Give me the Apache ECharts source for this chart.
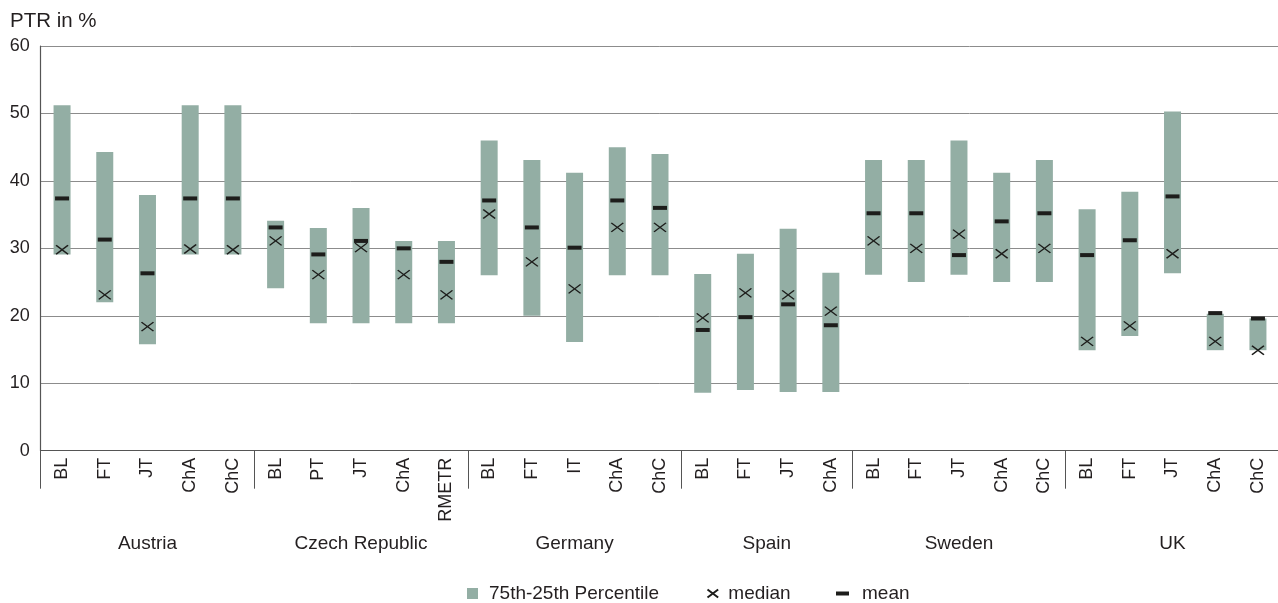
<!DOCTYPE html>
<html>
<head>
<meta charset="utf-8">
<script src="https://cdn.jsdelivr.net/npm/echarts@6/dist/echarts.min.js"></script>
<style>
html,body{margin:0;padding:0;background:#fff;overflow:hidden;}
#chart{width:1278px;height:603px;}
</style>
</head>
<body>
<div id="chart"></div>
<script>
const categories = ['BL','FT','JT','ChA','ChC','BL','PT','JT','ChA','RMETR','BL','FT','IT','ChA','ChC','BL','FT','JT','ChA','BL','FT','JT','ChA','ChC','BL','FT','JT','ChA','ChC'];
const countries = ['Austria','Czech Republic','Germany','Spain','Sweden','UK'];
const groupSizes = [5,5,5,4,5,5];
const p75 = [51.2,44.3,37.9,51.2,51.2, 34.1,33.0,36.0,31.1,31.1, 46.0,43.1,41.2,45.0,44.0, 26.2,29.2,32.9,26.4, 43.1,43.1,46.0,41.2,43.1, 35.8,38.4,50.3,20.3,19.6];
const p25 = [29.1,22.0,15.8,29.1,29.1, 24.1,18.9,18.9,18.9,18.9, 26.0,20.0,16.1,26.0,26.0, 8.6,9.0,8.7,8.7, 26.1,25.0,26.1,25.0,25.0, 14.9,17.0,26.3,14.9,14.9];
const median = [29.8,23.1,18.4,29.9,29.8, 31.1,26.1,30.1,26.1,23.1, 35.1,28.0,24.0,33.1,33.1, 19.7,23.4,23.1,20.7, 31.1,30.0,32.1,29.2,30.0, 16.2,18.5,29.2,16.2,14.9];
const mean = [37.4,31.3,26.3,37.4,37.4, 33.1,29.1,31.1,30.0,28.0, 37.1,33.1,30.1,37.1,36.0, 17.9,19.8,21.7,18.6, 35.2,35.2,29.0,34.0,35.2, 29.0,31.2,37.7,20.4,19.6];
const yTicks = [0,10,20,30,40,50,60];

// group starts and centers (in category units)
const groupStarts = [];
const groupCenters = {};
let acc = 0;
groupSizes.forEach((s, i) => { groupStarts.push(acc); groupCenters[(acc + s / 2).toFixed(1)] = countries[i]; acc += s; });

const FONT = 'Liberation Sans, Arial, Helvetica, sans-serif';
const TXT = '#231f20';
const BAR = '#93aea4';
const MARK = '#1d1d1b';
const crossPath = 'path://M0,0L12,9M12,0L0,9';

const chart = echarts.init(document.getElementById('chart'), null, {renderer: 'canvas'});
chart.setOption({
  animation: false,
  textStyle: {fontFamily: FONT},
  title: {text: 'PTR in %', left: 5, top: 6, textStyle: {fontFamily: FONT, fontSize: 20.5, fontWeight: 'normal', color: TXT}},
  grid: {left: 40.7, width: 1238.6, top: 46, bottom: 152.3, containLabel: false, outerBoundsMode: 'none'},
  legend: [
    {data: ['75th-25th Percentile'], left: 467, top: 584, padding: 0, icon: 'rect', itemWidth: 11, itemHeight: 11,
     textStyle: {fontFamily: FONT, fontSize: 19, color: TXT, padding: [0,0,0,6]}},
    {data: ['median'], left: 705, top: 584, padding: 0, itemWidth: 11, itemHeight: 8,
     textStyle: {fontFamily: FONT, fontSize: 19, color: TXT, padding: [0,0,0,5]}},
    {data: ['mean'], left: 836, top: 584, padding: 0, icon: 'rect', itemWidth: 13, itemHeight: 4,
     textStyle: {fontFamily: FONT, fontSize: 19, color: TXT, padding: [0,0,0,8]}}
  ],
  xAxis: [
    {
      type: 'category', data: categories, position: 'bottom',
      axisLine: {show: true, lineStyle: {color: '#555', width: 1.2}},
      axisTick: {show: true, length: 38, interval: (idx) => groupStarts.indexOf(idx) >= 0, lineStyle: {color: '#555', width: 1}},
      axisLabel: {rotate: 90, fontSize: 18, color: TXT, margin: 7, interval: 0, fontFamily: FONT},
      splitLine: {show: false}
    },
    {
      type: 'value', min: 0, max: categories.length, interval: 0.5, position: 'bottom',
      axisLine: {show: false}, axisTick: {show: false}, splitLine: {show: false},
      axisLabel: {margin: 84, fontSize: 19, color: TXT, fontFamily: FONT, showMinLabel: true, showMaxLabel: true,
        formatter: (v) => groupCenters[Number(v).toFixed(1)] || ''}
    }
  ],
  yAxis: {
    type: 'value', min: yTicks[0], max: yTicks[yTicks.length - 1], interval: 10,
    axisLine: {show: true, lineStyle: {color: '#555', width: 1.2}},
    axisTick: {show: false},
    axisLabel: {fontSize: 18, color: TXT, margin: 11, fontFamily: FONT},
    splitLine: {show: true, lineStyle: {color: '#8c8c8c', width: 1}}
  },
  series: [
    {name: 'base', type: 'bar', stack: 'range', barWidth: 17, data: p25, itemStyle: {color: 'transparent'}, silent: true, xAxisIndex: 0},
    {name: '75th-25th Percentile', type: 'bar', stack: 'range', barWidth: 17, xAxisIndex: 0,
     data: p75.map((v, i) => +(v - p25[i]).toFixed(2)), itemStyle: {color: BAR}},
    {name: 'mean', type: 'scatter', xAxisIndex: 0, symbol: 'rect', symbolSize: [14, 4], z: 5,
     data: mean, itemStyle: {color: MARK, opacity: 1}},
    {name: 'median', type: 'scatter', xAxisIndex: 0, symbol: crossPath, symbolSize: [12, 9], z: 6,
     data: median, itemStyle: {color: 'none', borderColor: MARK, borderWidth: 1.4, opacity: 1}}
  ]
});
</script>
</body>
</html>
